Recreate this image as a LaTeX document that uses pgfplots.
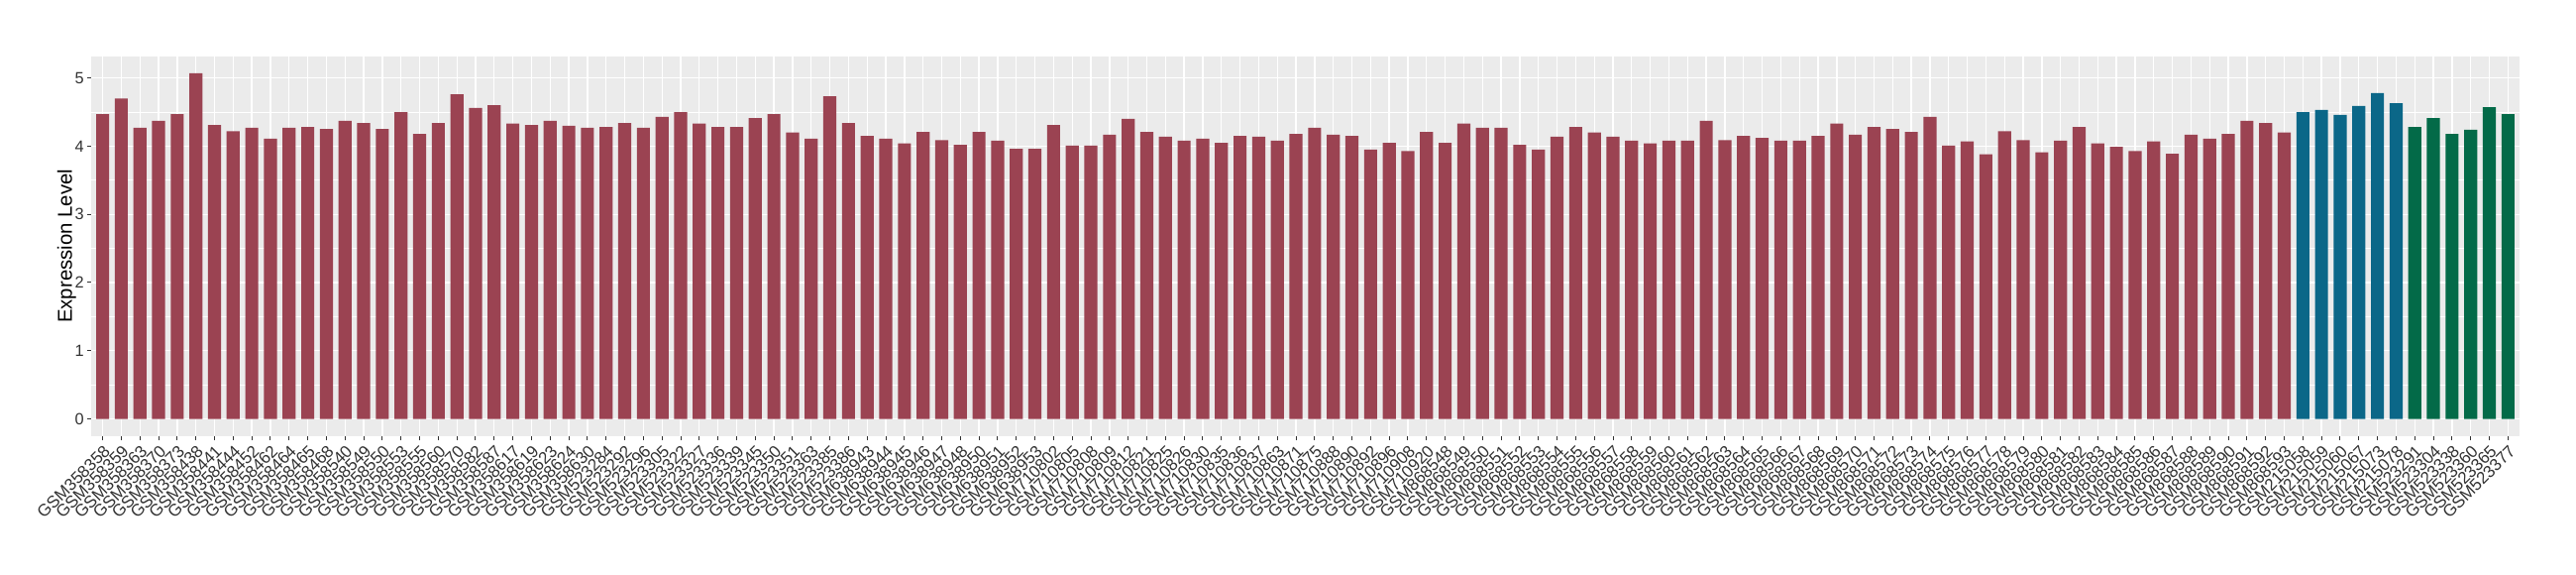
\documentclass[border=0pt]{standalone}
\usepackage{pgfplots}
\pgfplotsset{compat=1.18}
\usepackage{pgfplotstable}
\usepackage{fontspec}
\setmainfont{Liberation Sans}
\definecolor{cred}{RGB}{155,67,82}
\definecolor{cblue}{RGB}{11,103,136}
\definecolor{cgreen}{RGB}{3,106,72}
\definecolor{panelbg}{RGB}{235,235,235}
\definecolor{tickc}{RGB}{51,51,51}
\pgfplotstableread{
x y
0 4.47
1 4.70
2 4.27
3 4.37
4 4.47
5 5.07
6 4.31
7 4.22
8 4.27
9 4.11
10 4.27
11 4.28
12 4.25
13 4.37
14 4.34
15 4.25
16 4.50
17 4.18
18 4.34
19 4.76
20 4.56
21 4.60
22 4.33
23 4.31
24 4.37
25 4.30
26 4.27
27 4.28
28 4.34
29 4.27
30 4.43
31 4.50
32 4.33
33 4.28
34 4.28
35 4.41
36 4.47
37 4.20
38 4.11
39 4.73
40 4.34
41 4.15
42 4.11
43 4.04
44 4.21
45 4.09
46 4.02
47 4.21
48 4.08
49 3.96
50 3.96
51 4.31
52 4.01
53 4.01
54 4.17
55 4.40
56 4.21
57 4.14
58 4.08
59 4.11
60 4.05
61 4.15
62 4.14
63 4.08
64 4.18
65 4.27
66 4.17
67 4.15
68 3.95
69 4.05
70 3.93
71 4.21
72 4.05
73 4.33
74 4.27
75 4.27
76 4.02
77 3.95
78 4.14
79 4.28
80 4.20
81 4.14
82 4.08
83 4.04
84 4.08
85 4.08
86 4.37
87 4.09
88 4.15
89 4.12
90 4.08
91 4.08
92 4.15
93 4.33
94 4.17
95 4.28
96 4.25
97 4.21
98 4.43
99 4.01
100 4.07
101 3.88
102 4.22
103 4.09
104 3.91
105 4.08
106 4.28
107 4.04
108 3.99
109 3.93
110 4.07
111 3.89
112 4.17
113 4.11
114 4.18
115 4.37
116 4.34
117 4.20
}\redtab
\pgfplotstableread{
x y
118 4.50
119 4.53
120 4.46
121 4.59
122 4.78
123 4.63
}\bluetab
\pgfplotstableread{
x y
124 4.28
125 4.41
126 4.18
127 4.24
128 4.57
129 4.47
}\greentab
\begin{document}
\begin{tikzpicture}
\begin{axis}[
  at={(27.69pt,42pt)}, anchor=south west,
  scale only axis,
  width=735.1pt, height=115pt,
  xmin=-0.6, xmax=129.6,
  ymin=-0.254, ymax=5.32,
  ybar, bar width=0.7, bar shift=0pt,
  axis background/.style={fill=panelbg},
  axis line style={draw=none},
  xtick={0,...,129},
  xticklabels={GSM358358,GSM358359,GSM358363,GSM358370,GSM358373,GSM358438,GSM358441,GSM358444,GSM358452,GSM358462,GSM358464,GSM358465,GSM358468,GSM358540,GSM358549,GSM358550,GSM358553,GSM358555,GSM358560,GSM358570,GSM358582,GSM358587,GSM358617,GSM358619,GSM358623,GSM358624,GSM358630,GSM523284,GSM523292,GSM523296,GSM523305,GSM523322,GSM523327,GSM523336,GSM523339,GSM523345,GSM523350,GSM523351,GSM523363,GSM523385,GSM523386,GSM638943,GSM638944,GSM638945,GSM638946,GSM638947,GSM638948,GSM638950,GSM638951,GSM638952,GSM638953,GSM710802,GSM710805,GSM710808,GSM710809,GSM710812,GSM710821,GSM710825,GSM710826,GSM710830,GSM710835,GSM710836,GSM710837,GSM710863,GSM710871,GSM710875,GSM710888,GSM710890,GSM710892,GSM710896,GSM710908,GSM710920,GSM868548,GSM868549,GSM868550,GSM868551,GSM868552,GSM868553,GSM868554,GSM868555,GSM868556,GSM868557,GSM868558,GSM868559,GSM868560,GSM868561,GSM868562,GSM868563,GSM868564,GSM868565,GSM868566,GSM868567,GSM868568,GSM868569,GSM868570,GSM868571,GSM868572,GSM868573,GSM868574,GSM868575,GSM868576,GSM868577,GSM868578,GSM868579,GSM868580,GSM868581,GSM868582,GSM868583,GSM868584,GSM868585,GSM868586,GSM868587,GSM868588,GSM868589,GSM868590,GSM868591,GSM868592,GSM868593,GSM215058,GSM215059,GSM215060,GSM215067,GSM215073,GSM215078,GSM523291,GSM523304,GSM523338,GSM523360,GSM523365,GSM523377},
  ytick={0,1,2,3,4,5},
  minor ytick={0.5,1.5,2.5,3.5,4.5},
  xtick pos=bottom, ytick pos=left,
  tick align=outside,
  major tick length=1.3pt, minor tick length=0pt,
  tick style={tickc, line width=0.3pt},
  grid=both,
  major grid style={white, line width=0.4pt},
  minor grid style={white, line width=0.2pt},
  /pgf/number format/assume math mode=true,
  ticklabel style={font=\fontsize{4.9}{5.6}\selectfont, text=black!80},
  x tick label style={rotate=45, anchor=north east, inner sep=0.6pt, font=\fontsize{5.1}{5.8}\selectfont},
  y tick label style={inner sep=0.8pt},
  ylabel={Expression Level},
  ylabel style={at={(axis description cs:0,0.5)}, anchor=center, yshift=7.5pt, font=\fontsize{6.1}{7}\selectfont},
]
\addplot[fill=cred, draw=none] table[x=x,y=y]{\redtab};
\addplot[fill=cblue, draw=none] table[x=x,y=y]{\bluetab};
\addplot[fill=cgreen, draw=none] table[x=x,y=y]{\greentab};
\end{axis}
\pgfresetboundingbox
\useasboundingbox (0,0) rectangle (780pt,174pt);
\end{tikzpicture}
\end{document}
